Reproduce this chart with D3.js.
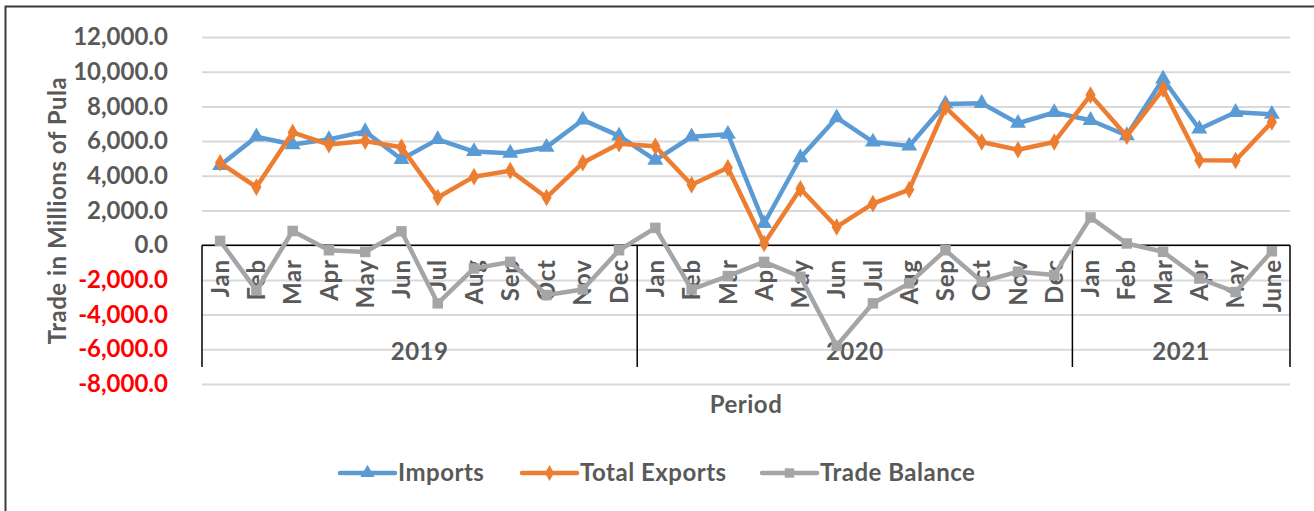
<!DOCTYPE html>
<html>
<head>
<meta charset="utf-8">
<script src="https://cdn.jsdelivr.net/npm/d3@7"></script>
<style>
  body { margin: 0; background: #fff; }
  text { font-family: Lato, "Open Sans", sans-serif; font-weight: bold; }
</style>
</head>
<body>
<svg id="chart" width="1314" height="511"></svg>
<script>
// data (millions of Pula)
var years = ["2019", "2020", "2021"]
var months2019 = ["Jan","Feb","Mar","Apr","May","Jun","Jul","Aug","Sep","Oct","Nov","Dec"]
var months2020 = ["Jan","Feb","Mar","Apr","May","Jun","Jul","Aug","Sep","Oct","Nov","Dec"]
var months2021 = ["Jan","Feb","Mar","Apr","May","June"]

var imports = [4600, 6250, 5800, 6100, 6550, 4950, 6100, 5400, 5300, 5650, 7220, 6300,
               4900, 6250, 6400, 1250, 5040, 7350, 5950, 5720, 8140, 8180, 7030, 7650,
               7200, 6320, 9580, 6700, 7660, 7550]
var exports = [4750, 3350, 6500, 5800, 6000, 5650, 2750, 3950, 4300, 2750, 4750, 5850,
               5700, 3480, 4460, 100, 3250, 1050, 2400, 3200, 7950, 5950, 5500, 5950,
               8650, 6280, 9000, 4900, 4880, 7100]
var balance = [250, -2600, 820, -290, -390, 800, -3350, -1340, -960, -2870, -2550, -290,
               1000, -2550, -1780, -960, -1820, -5800, -3350, -2200, -290, -2100, -1530, -1720,
               1600, 100, -380, -1920, -2700, -350]

var yTicks = [12000, 10000, 8000, 6000, 4000, 2000, 0, -2000, -4000, -6000, -8000]

var seriesNames = ["Imports", "Total Exports", "Trade Balance"]
var colors = ["#5B9BD5", "#ED7D31", "#A5A5A5"]

var monthsByYear = [months2019, months2020, months2021]
var periods = []
monthsByYear.forEach(function (ms, yi) {
    ms.forEach(function (m) { periods.push({ year: years[yi], month: m }) })
})

var svg = d3.select("#chart")
var margin = { top: 37, left: 202, bottom: 127, right: 24 }
var width = +svg.attr("width"), height = +svg.attr("height")

// frame (left and top only)
svg.append("path")
    .attr("d", "M5.5,511 V6.5 H1314")
    .attr("fill", "none").attr("stroke", "#3a3a3a").attr("stroke-width", 2)

var x = d3.scaleBand()
    .domain(d3.range(periods.length))
    .range([margin.left, width - margin.right])
    .paddingInner(0).paddingOuter(0)
var cx = function (i) { return x(i) + x.bandwidth() / 2 }

var y = d3.scaleLinear()
    .domain([-8000, 12000])
    .range([height - margin.bottom, margin.top])

var loc = d3.formatLocale({ decimal: ".", thousands: ",", grouping: [3], currency: ["", ""], minus: "-" })
var fmt = loc.format(",.1f")

// gridlines + y tick labels
var yAxis = svg.append("g")
    .attr("class", "y-axis")
    .attr("transform", "translate(" + margin.left + ",0)")
    .call(d3.axisLeft(y).tickValues(yTicks).tickFormat(fmt)
        .tickSizeInner(-(width - margin.right - margin.left)).tickSizeOuter(0).tickPadding(34))
yAxis.select(".domain").remove()
yAxis.selectAll(".tick line").attr("stroke", "#d9d9d9").attr("stroke-width", 2)
yAxis.selectAll(".tick text")
    .attr("font-size", 24)
    .attr("fill", function (d) { return d < 0 ? "#ff0000" : "#595959" })

// y title
svg.append("text")
    .attr("transform", "translate(66," + (margin.top + (height - margin.bottom - margin.top) / 2) + ") rotate(-90)")
    .attr("text-anchor", "middle")
    .attr("font-size", 24)
    .attr("letter-spacing", 0.5)
    .attr("fill", "#595959")
    .text("Trade in Millions of Pula")

// multi-level category axis
var axisY = y(0), axisBottom = 367
var xg = svg.append("g").attr("class", "x-axis")
xg.append("line")
    .attr("x1", margin.left).attr("x2", width - margin.right)
    .attr("y1", axisY).attr("y2", axisY)
    .attr("stroke", "#000").attr("stroke-width", 1.5)

var bounds = [0]
monthsByYear.forEach(function (ms) { bounds.push(bounds[bounds.length - 1] + ms.length) })
bounds.forEach(function (b) {
    var bx = b < periods.length ? x(b) : x(periods.length - 1) + x.bandwidth()
    xg.append("line")
        .attr("x1", bx).attr("x2", bx)
        .attr("y1", axisY).attr("y2", axisBottom)
        .attr("stroke", "#000").attr("stroke-width", 1.5)
})

xg.selectAll("text.month")
    .data(periods)
    .enter().append("text")
    .attr("class", "month")
    .attr("transform", function (d, i) { return "translate(" + cx(i) + "," + (axisY + 14) + ") rotate(-90)" })
    .attr("text-anchor", "end")
    .attr("dy", "0.36em")
    .attr("font-size", 24)
    .attr("letter-spacing", 0.8)
    .attr("fill", "#595959")
    .text(function (d) { return d.month })

xg.selectAll("text.year")
    .data(years)
    .enter().append("text")
    .attr("class", "year")
    .attr("x", function (d, i) {
        var a = x(bounds[i]), e = x(bounds[i + 1] - 1) + x.bandwidth()
        return (a + e) / 2
    })
    .attr("y", 352)
    .attr("dy", "0.35em")
    .attr("text-anchor", "middle")
    .attr("font-size", 24)
    .attr("letter-spacing", 0.5)
    .attr("fill", "#595959")
    .text(function (d) { return d })

// x title
svg.append("text")
    .attr("x", (margin.left + width - margin.right) / 2)
    .attr("y", 405)
    .attr("dy", "0.35em")
    .attr("text-anchor", "middle")
    .attr("font-size", 24)
    .attr("letter-spacing", 0.5)
    .attr("fill", "#595959")
    .text("Period")

// series
var seriesData = [imports, exports, balance]
var symbols = [d3.symbolTriangle, d3.symbolDiamond, d3.symbolSquare]
var symSizes = [110, 90, 110]

var line = d3.line()
    .x(function (d, i) { return cx(i) })
    .y(function (d) { return y(d) })

var layers = svg.selectAll("g.layer")
    .data(seriesData)
    .enter().append("g")
    .attr("class", "layer")

layers.append("path")
    .attr("d", function (d) { return line(d) })
    .attr("fill", "none")
    .attr("stroke", function (d, i) { return colors[i] })
    .attr("stroke-width", 4.5)
    .attr("stroke-linejoin", "round")

layers.each(function (vals, si) {
    d3.select(this).selectAll("path.marker")
        .data(vals)
        .enter().append("path")
        .attr("class", "marker")
        .attr("d", d3.symbol().type(symbols[si]).size(symSizes[si]))
        .attr("transform", function (d, i) { return "translate(" + cx(i) + "," + y(d) + ")" })
        .attr("fill", colors[si])
})

// legend
var legendX = [340, 522, 762]
var legend = svg.append("g").attr("class", "legend")
seriesNames.forEach(function (name, i) {
    var g = legend.append("g").attr("transform", "translate(" + legendX[i] + ",473)")
    g.append("line")
        .attr("x1", 0).attr("x2", 55).attr("y1", 0).attr("y2", 0)
        .attr("stroke", colors[i]).attr("stroke-width", 4.5).attr("stroke-linecap", "round")
    g.append("path")
        .attr("d", d3.symbol().type(symbols[i]).size(symSizes[i] * 0.8))
        .attr("transform", "translate(27.5,0)")
        .attr("fill", colors[i])
    g.append("text")
        .attr("x", 58)
        .attr("dy", "0.35em")
        .attr("font-size", 24)
        .attr("letter-spacing", 0.5)
        .attr("fill", "#595959")
        .text(name)
})
</script>
</body>
</html>
